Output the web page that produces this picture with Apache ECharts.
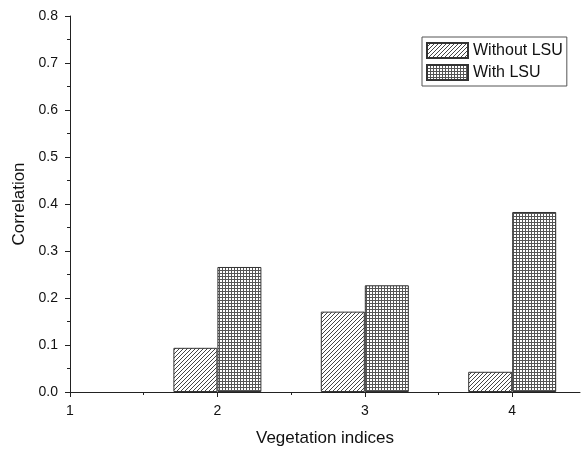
<!DOCTYPE html>
<html>
<head>
<meta charset="utf-8">
<script src="https://cdn.jsdelivr.net/npm/echarts@6/dist/echarts.min.js"></script>
<style>
html,body{margin:0;padding:0;background:#fff;}
#chart{width:584px;height:452px;}
</style>
</head>
<body>
<div id="chart"></div>
<script>
// ---- data ----
const categories = [2, 3, 4];
const withoutLSU = [0.094, 0.171, 0.043];
const withLSU = [0.266, 0.227, 0.383];
const seriesNames = ['Without LSU', 'With LSU'];
const xMajorTicks = [1, 2, 3, 4];
const xMinorTicks = [1.5, 2.5, 3.5];
const xTitle = 'Vegetation indices';
const yTitle = 'Correlation';

// ---- patterns ----
function hatchPattern() {
  const c = document.createElement('canvas');
  c.width = 4; c.height = 4;
  const g = c.getContext('2d');
  g.fillStyle = '#fff'; g.fillRect(0, 0, 4, 4);
  g.strokeStyle = '#444'; g.lineWidth = 1;
  g.beginPath();
  g.moveTo(0, 4); g.lineTo(4, 0);
  g.moveTo(-1, 1); g.lineTo(1, -1);
  g.moveTo(3, 5); g.lineTo(5, 3);
  g.stroke();
  return c;
}
function gridPattern() {
  const c = document.createElement('canvas');
  c.width = 3; c.height = 3;
  const g = c.getContext('2d');
  g.fillStyle = '#fff'; g.fillRect(0, 0, 3, 3);
  g.fillStyle = '#555';
  g.fillRect(0, 0, 3, 1);
  g.fillRect(0, 0, 1, 3);
  return c;
}

const font = '"Liberation Sans", Arial, sans-serif';
const chart = echarts.init(document.getElementById('chart'));
chart.setOption({
  animation: false,
  backgroundColor: '#fff',
  textStyle: { fontFamily: font, color: '#111' },
  grid: { left: 70, right: 4, top: 16, bottom: 58 },
  legend: {
    data: seriesNames,
    orient: 'vertical',
    left: 422, top: 37,
    itemWidth: 41, itemHeight: 15, itemGap: 5,
    borderColor: '#555', borderWidth: 1,
    padding: [5, 4, 5, 4],
    icon: 'rect',
    textStyle: { fontSize: 16, lineHeight: 15, color: '#111', fontFamily: font }
  },
  xAxis: [{
    type: 'value', min: 1, max: 4.46, interval: 1,
    name: xTitle, nameLocation: 'middle', nameGap: 38,
    nameTextStyle: { fontSize: 17, color: '#111', fontFamily: font },
    axisLine: { show: true, lineStyle: { color: '#222', width: 1 } },
    axisTick: { show: true, customValues: xMajorTicks, length: 5, lineStyle: { color: '#222' } },
    axisLabel: { customValues: xMajorTicks, margin: 12, fontSize: 14, color: '#111', fontFamily: font },
    splitLine: { show: false }
  }, {
    type: 'value', min: 1, max: 4.46, interval: 1, position: 'bottom',
    axisLine: { show: false },
    axisTick: { show: true, customValues: xMinorTicks, length: 3, lineStyle: { color: '#222' } },
    axisLabel: { show: false },
    splitLine: { show: false }
  }],
  yAxis: {
    type: 'value', min: 0, max: 0.8, interval: 0.1,
    name: yTitle, nameLocation: 'middle', nameGap: 42,
    nameTextStyle: { fontSize: 17, color: '#111', fontFamily: font },
    axisLine: { show: true, lineStyle: { color: '#222', width: 1 } },
    axisTick: { show: true, length: 5, lineStyle: { color: '#222' } },
    minorTick: { show: true, splitNumber: 2, length: 3, lineStyle: { color: '#222' } },
    axisLabel: { margin: 12, fontSize: 14, color: '#111', fontFamily: font,
      formatter: v => v.toFixed(1) },
    splitLine: { show: false },
    minorSplitLine: { show: false }
  },
  series: [{
    name: seriesNames[0], type: 'bar', xAxisIndex: 0,
    barWidth: 44, barGap: '0%',
    itemStyle: { color: { image: hatchPattern(), repeat: 'repeat' }, borderColor: '#333', borderWidth: 1 },
    data: categories.map((c, i) => [c, withoutLSU[i]])
  }, {
    name: seriesNames[1], type: 'bar', xAxisIndex: 0,
    barWidth: 44, barGap: '0%',
    itemStyle: { color: { image: gridPattern(), repeat: 'repeat' }, borderColor: '#333', borderWidth: 1 },
    data: categories.map((c, i) => [c, withLSU[i]])
  }]
});
</script>
</body>
</html>
